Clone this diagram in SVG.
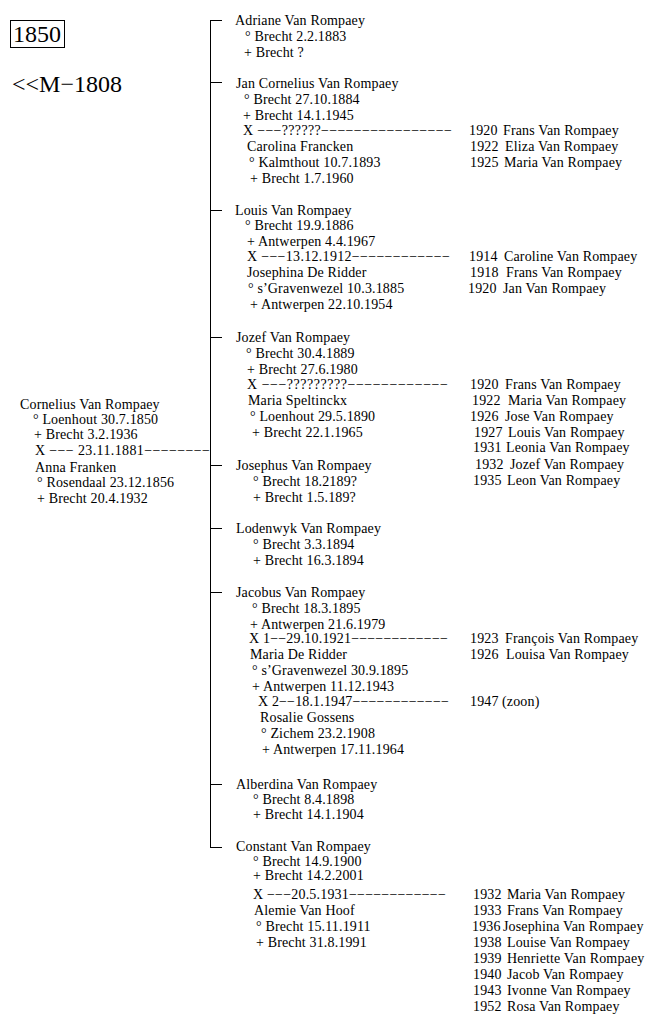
<svg xmlns="http://www.w3.org/2000/svg" width="650" height="1024" viewBox="0 0 650 1024">
<style>
text{font-family:"Liberation Serif","Times New Roman",serif;font-size:14px;fill:#000;letter-spacing:0.15px}
.big{font-size:24px;letter-spacing:0}
.ln{stroke:#000;stroke-width:1;fill:none}
</style>
<rect x="0" y="0" width="650" height="1024" fill="#fff"/>
<g id="header">
<rect class="ln" x="10.5" y="20.5" width="54" height="27"/>
<text class="big" x="13" y="42">1850</text>
<text class="big" x="12" y="92">&lt;&lt;M−1808</text>
</g>
<g id="connectors">
<path class="ln" d="M210.5 20 V847.5 M210 20.5 H222 M210 82.5 H222 M210 210.5 H222 M210 337.5 H222 M210 465.5 H222 M210 528.5 H222 M210 592.5 H222 M210 784.5 H222 M210 847.5 H222"/>
</g>
<g id="cornelius">
<text x="20" y="409">Cornelius Van Rompaey</text>
<text x="33" y="424">° Loenhout 30.7.1850</text>
<text x="34" y="439">+ Brecht 3.2.1936</text>
<text x="35" y="455" textLength="175" lengthAdjust="spacing">X −−− 23.11.1881−−−−−−−−</text>
<text x="35" y="472">Anna Franken</text>
<text x="37" y="487">° Rosendaal 23.12.1856</text>
<text x="37" y="503">+ Brecht 20.4.1932</text>
</g>
<g id="adriane">
<text x="235" y="25">Adriane Van Rompaey</text>
<text x="245" y="41">° Brecht 2.2.1883</text>
<text x="244" y="57">+ Brecht ?</text>
</g>
<g id="jan">
<text x="236" y="88">Jan Cornelius Van Rompaey</text>
<text x="244" y="104">° Brecht 27.10.1884</text>
<text x="243" y="120">+ Brecht 14.1.1945</text>
<text x="243" y="135" textLength="209" lengthAdjust="spacing">X −−−??????−−−−−−−−−−−−−−−−</text>
<text x="247" y="151">Carolina Francken</text>
<text x="249" y="167">° Kalmthout 10.7.1893</text>
<text x="250" y="183">+ Brecht 1.7.1960</text>
<text x="469" y="135">1920</text><text x="503" y="135">Frans Van Rompaey</text>
<text x="470" y="151">1922</text><text x="505" y="151">Eliza Van Rompaey</text>
<text x="470" y="167">1925</text><text x="504" y="167">Maria Van Rompaey</text>
</g>
<g id="louis">
<text x="235" y="215">Louis Van Rompaey</text>
<text x="245" y="230">° Brecht 19.9.1886</text>
<text x="247" y="246">+ Antwerpen 4.4.1967</text>
<text x="247" y="261" textLength="203" lengthAdjust="spacing">X  −−−13.12.1912−−−−−−−−−−−−</text>
<text x="247" y="277">Josephina De Ridder</text>
<text x="248" y="293">° s’Gravenwezel 10.3.1885</text>
<text x="250" y="309">+ Antwerpen 22.10.1954</text>
<text x="469" y="261">1914</text><text x="504" y="261">Caroline Van Rompaey</text>
<text x="470" y="277">1918</text><text x="506" y="277">Frans Van Rompaey</text>
<text x="468" y="293">1920</text><text x="503" y="293">Jan Van Rompaey</text>
</g>
<g id="jozef">
<text x="236" y="342">Jozef Van Rompaey</text>
<text x="246" y="358">° Brecht 30.4.1889</text>
<text x="247" y="374">+ Brecht 27.6.1980</text>
<text x="247" y="389" textLength="201" lengthAdjust="spacing">X −−−?????????−−−−−−−−−−−−</text>
<text x="248" y="405">Maria Speltinckx</text>
<text x="250" y="421">° Loenhout 29.5.1890</text>
<text x="252" y="437">+ Brecht 22.1.1965</text>
<text x="470" y="389">1920</text><text x="505" y="389">Frans Van Rompaey</text>
<text x="472" y="405">1922</text><text x="508" y="405">Maria Van Rompaey</text>
<text x="470" y="421">1926</text><text x="505" y="421">Jose Van Rompaey</text>
<text x="474" y="437">1927</text><text x="508" y="437">Louis Van Rompaey</text>
<text x="473" y="452">1931</text><text x="506" y="452">Leonia Van Rompaey</text>
<text x="475" y="469">1932</text><text x="510" y="469">Jozef Van Rompaey</text>
<text x="473" y="485">1935</text><text x="507" y="485">Leon Van Rompaey</text>
</g>
<g id="josephus">
<text x="236" y="470">Josephus Van Rompaey</text>
<text x="253" y="486">° Brecht 18.2189?</text>
<text x="253" y="502">+ Brecht 1.5.189?</text>
</g>
<g id="lodenwyk">
<text x="236" y="533">Lodenwyk Van Rompaey</text>
<text x="253" y="549">° Brecht 3.3.1894</text>
<text x="253" y="565">+ Brecht 16.3.1894</text>
</g>
<g id="jacobus">
<text x="236" y="597">Jacobus Van Rompaey</text>
<text x="252" y="613">° Brecht 18.3.1895</text>
<text x="250" y="629">+ Antwerpen 21.6.1979</text>
<text x="249" y="643" textLength="199" lengthAdjust="spacing">X 1−−29.10.1921−−−−−−−−−−−−</text>
<text x="250" y="659">Maria De Ridder</text>
<text x="252" y="675">° s’Gravenwezel 30.9.1895</text>
<text x="252" y="691">+ Antwerpen 11.12.1943</text>
<text x="258" y="706" textLength="191" lengthAdjust="spacing">X 2−−18.1.1947−−−−−−−−−−−−</text>
<text x="260" y="722">Rosalie Gossens</text>
<text x="261" y="738">° Zichem 23.2.1908</text>
<text x="262" y="754">+ Antwerpen 17.11.1964</text>
<text x="470" y="643">1923</text><text x="505" y="643">François Van Rompaey</text>
<text x="470" y="659">1926</text><text x="506" y="659">Louisa Van Rompaey</text>
<text x="470" y="706">1947</text><text x="502" y="706">(zoon)</text>
</g>
<g id="alberdina">
<text x="236" y="789">Alberdina Van Rompaey</text>
<text x="253" y="804">° Brecht 8.4.1898</text>
<text x="253" y="819">+ Brecht 14.1.1904</text>
</g>
<g id="constant">
<text x="236" y="851">Constant Van Rompaey</text>
<text x="253" y="866">° Brecht 14.9.1900</text>
<text x="253" y="880">+ Brecht 14.2.2001</text>
<text x="253" y="899" textLength="193" lengthAdjust="spacing">X −−−20.5.1931−−−−−−−−−−−−</text>
<text x="254" y="915">Alemie Van Hoof</text>
<text x="256" y="931">° Brecht 15.11.1911</text>
<text x="256" y="947">+ Brecht 31.8.1991</text>
<text x="473" y="899">1932</text><text x="507" y="899">Maria Van Rompaey</text>
<text x="473" y="915">1933</text><text x="507" y="915">Frans Van Rompaey</text>
<text x="472" y="931">1936</text><text x="503" y="931">Josephina Van Rompaey</text>
<text x="473" y="947">1938</text><text x="507" y="947">Louise Van Rompaey</text>
<text x="473" y="963">1939</text><text x="507" y="963">Henriette Van Rompaey</text>
<text x="473" y="979">1940</text><text x="507" y="979">Jacob Van Rompaey</text>
<text x="473" y="995">1943</text><text x="507" y="995">Ivonne Van Rompaey</text>
<text x="473" y="1011">1952</text><text x="507" y="1011">Rosa Van Rompaey</text>
</g>
</svg>
